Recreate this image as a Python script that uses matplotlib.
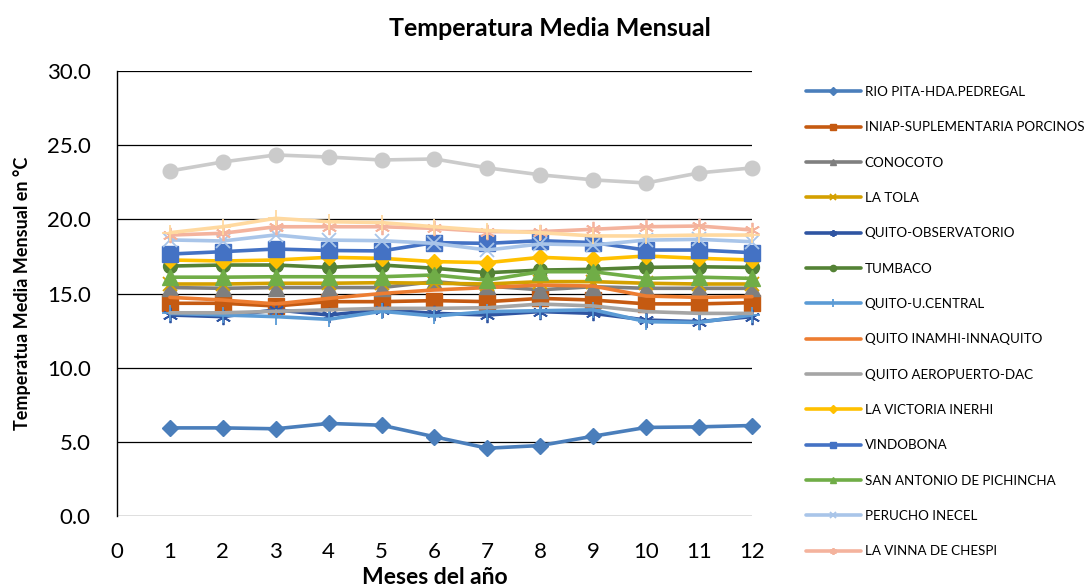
import matplotlib
matplotlib.use("Agg")
import matplotlib.pyplot as plt

plt.rcParams['font.family'] = ['Lato', 'DejaVu Sans']

months = [1, 2, 3, 4, 5, 6, 7, 8, 9, 10, 11, 12]
x_ticks = [0, 1, 2, 3, 4, 5, 6, 7, 8, 9, 10, 11, 12]
y_ticks = [0.0, 5.0, 10.0, 15.0, 20.0, 25.0, 30.0]

station_names = [
    "RIO PITA-HDA.PEDREGAL",
    "INIAP-SUPLEMENTARIA PORCINOS",
    "CONOCOTO",
    "LA TOLA",
    "QUITO-OBSERVATORIO",
    "TUMBACO",
    "QUITO-U.CENTRAL",
    "QUITO INAMHI-INNAQUITO",
    "QUITO AEROPUERTO-DAC",
    "LA VICTORIA INERHI",
    "VINDOBONA",
    "SAN ANTONIO DE PICHINCHA",
    "PERUCHO INECEL",
    "LA VINNA DE CHESPI",
    "SERIE 15",
    "SERIE 16",
]

rio_pita = [5.94, 5.94, 5.88, 6.24, 6.12, 5.34, 4.57, 4.75, 5.38, 5.97, 6.01, 6.10]
iniap = [14.34, 14.34, 14.16, 14.45, 14.45, 14.52, 14.45, 14.67, 14.56, 14.30, 14.30, 14.38]
conocoto = [15.40, 15.35, 15.40, 15.40, 15.40, 15.80, 15.50, 15.25, 15.46, 15.35, 15.35, 15.35]
la_tola = [15.64, 15.64, 15.69, 15.69, 15.73, 15.69, 15.64, 15.80, 15.80, 15.69, 15.64, 15.64]
quito_obs = [13.55, 13.44, 13.90, 13.55, 13.90, 13.66, 13.55, 13.78, 13.66, 13.21, 13.10, 13.44]
tumbaco = [16.85, 16.92, 16.92, 16.76, 16.92, 16.70, 16.40, 16.58, 16.63, 16.76, 16.80, 16.76]
quito_ucentral = [13.66, 13.55, 13.44, 13.26, 13.80, 13.48, 13.78, 13.84, 13.90, 13.10, 13.05, 13.55]
quito_inamhi = [14.74, 14.56, 14.30, 14.67, 15.00, 15.24, 15.40, 15.57, 15.50, 14.83, 14.74, 14.79]
quito_aeropuerto = [13.70, 13.70, 13.80, 13.90, 14.00, 14.00, 14.04, 14.29, 14.16, 13.78, 13.66, 13.66]
la_victoria = [17.26, 17.19, 17.26, 17.44, 17.37, 17.15, 17.08, 17.44, 17.30, 17.53, 17.37, 17.26]
vindobona = [17.66, 17.82, 18.00, 17.90, 17.87, 18.43, 18.38, 18.56, 18.43, 17.93, 17.93, 17.75]
san_antonio = [16.10, 16.10, 16.13, 16.13, 16.13, 16.25, 15.90, 16.47, 16.47, 16.02, 16.10, 16.02]
perucho = [18.61, 18.54, 18.95, 18.60, 18.56, 18.38, 17.93, 18.34, 18.27, 18.60, 18.65, 18.49]
la_vinna = [18.94, 19.06, 19.50, 19.50, 19.50, 19.39, 19.17, 19.17, 19.33, 19.50, 19.55, 19.28]
serie_15 = [23.26, 23.87, 24.34, 24.20, 24.00, 24.07, 23.47, 23.00, 22.66, 22.45, 23.13, 23.47]
serie_16 = [19.10, 19.50, 20.07, 19.84, 19.78, 19.50, 19.24, 19.10, 18.88, 18.88, 18.94, 18.94]

series = [rio_pita, iniap, conocoto, la_tola, quito_obs, tumbaco, quito_ucentral,
          quito_inamhi, quito_aeropuerto, la_victoria, vindobona, san_antonio,
          perucho, la_vinna, serie_15, serie_16]

colors = ['#4A7EBB', '#C55A11', '#7F7F7F', '#D4A000', '#2F55A2', '#548235',
          '#5B9BD5', '#ED7D31', '#A5A5A5', '#FFC000', '#4472C4', '#70AD47',
          '#A9C5E9', '#F4B39D', '#CBCBCB', '#FFD9A0']
asterisk = (6, 2, 0)
markers = ['D', 's', '^', 'x', asterisk, 'o', '+', None, None, 'D', 's', '^',
           'x', asterisk, 'o', '+']
msizes = [8.5, 11, 11, 9.5, 11, 10, 12, 0, 0, 8.5, 11, 11, 9.5, 11, 10.5, 12]

fig = plt.figure(figsize=(10.89, 5.88), dpi=100)
ax = fig.add_axes([117 / 1089, 1 - 516 / 588, (752 - 117) / 1089, (516 - 71) / 588])

handles = []
for vals, name, c, m, ms in zip(series, station_names, colors, markers, msizes):
    kw = dict(color=c, lw=2.6, solid_capstyle='round', solid_joinstyle='round')
    if m is not None:
        kw.update(marker=m, markersize=ms, markerfacecolor=c, markeredgecolor=c,
                  markeredgewidth=1.3 if m in ('x', '+', asterisk) else 1.0)
    line, = ax.plot(months, vals, label=name, clip_on=False, **kw)
    handles.append(line)

ax.set_xlim(0, 12)
ax.set_ylim(0, 30)
ax.set_xticks(x_ticks)
ax.set_xticklabels([str(t) for t in x_ticks])
ax.set_yticks(y_ticks)
ax.set_yticklabels([f"{t:.1f}" for t in y_ticks])
ax.tick_params(axis='both', length=0, labelsize=16, colors='black')
ax.tick_params(axis='y', pad=19)
ax.tick_params(axis='x', pad=19)
ax.grid(axis='y', color='black', lw=0.9)
ax.set_axisbelow(True)
for s in ['top', 'right', 'bottom']:
    ax.spines[s].set_visible(False)
ax.spines['left'].set_color('black')
ax.spines['left'].set_linewidth(1.0)

fig.text(550 / 1089, 1 - 28 / 588, "Temperatura Media Mensual", ha='center', va='center',
         fontsize=18, fontweight='bold')
fig.text(22 / 1089, 1 - 293 / 588, "Temperatua Media Mensual en °C", rotation=90,
         ha='center', va='center', fontsize=13, fontweight='bold')
fig.text(435 / 1089, 1 - 578 / 588, "Meses del año", ha='center', va='center',
         fontsize=16.5, fontweight='bold')

leg = fig.legend(handles=handles[:14], loc='upper left',
                 bbox_to_anchor=(806 / 1089, 1 - 86 / 588), frameon=False,
                 fontsize=9.6, handlelength=4.1, handletextpad=0.3,
                 labelspacing=1.75, borderpad=0, borderaxespad=0, markerscale=0.45)

fig.savefig("out.png", dpi=100)
